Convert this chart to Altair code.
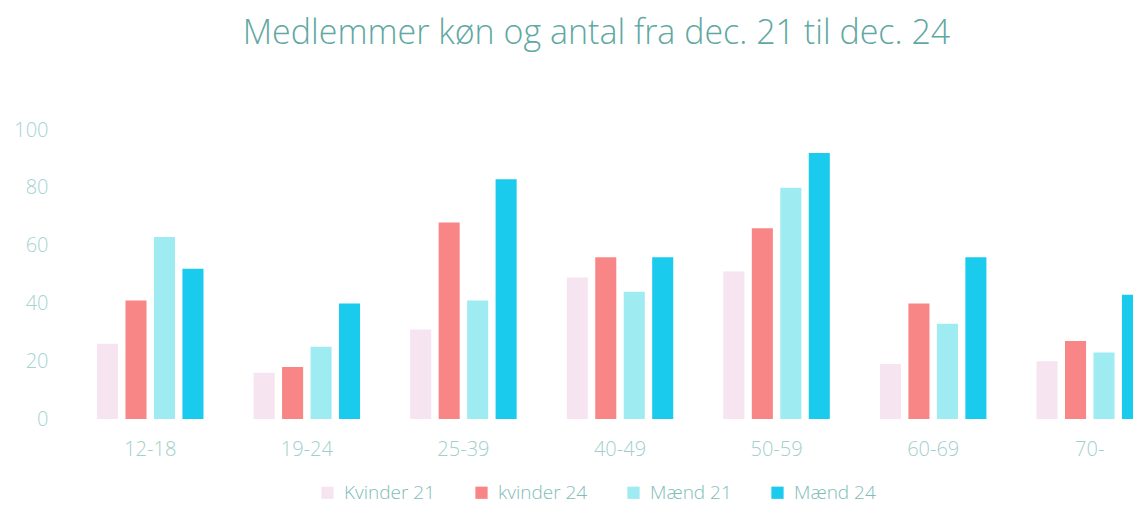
import altair as alt
import pandas as pd

ages = ["12-18", "19-24", "25-39", "40-49", "50-59", "60-69", "70-"]
series = ["Kvinder 21", "kvinder 24", "Mænd 21", "Mænd 24"]
kvinder21 = [26, 16, 31, 49, 51, 19, 20]
kvinder24 = [41, 18, 68, 56, 66, 40, 27]
maend21 = [63, 25, 41, 44, 80, 33, 23]
maend24 = [52, 40, 83, 56, 92, 56, 43]
colors = ["#f6e4f0", "#f98686", "#9eebf1", "#1bcbee"]
y_ticks = [0, 20, 40, 60, 80, 100]

rows = []
for name, vals in zip(series, [kvinder21, kvinder24, maend21, maend24]):
    for a, v in zip(ages, vals):
        rows.append({"Alder": a, "Serie": name, "Antal": v})
df = pd.DataFrame(rows)

FONT = "Open Sans"

chart = (
    alt.Chart(df)
    .mark_bar(clip=True)
    .encode(
        x=alt.X(
            "Alder:N",
            sort=ages,
            title=None,
            scale=alt.Scale(range=[37, 1083], paddingInner=0.32, paddingOuter=0),
            axis=alt.Axis(
                labelAngle=0,
                domain=False,
                ticks=False,
                labelPadding=20,
                labelFontSize=20,
                labelFontWeight=300,
                labelColor="#9fd0cb",
                labelFont=FONT,
            ),
        ),
        xOffset=alt.XOffset(
            "Serie:N",
            sort=series,
            scale=alt.Scale(paddingInner=0.26, paddingOuter=0),
        ),
        y=alt.Y(
            "Antal:Q",
            title=None,
            scale=alt.Scale(domain=[0, 100], nice=False),
            axis=alt.Axis(
                values=y_ticks,
                grid=False,
                domain=False,
                ticks=False,
                labelPadding=12,
                labelFontSize=20,
                labelFontWeight=300,
                labelColor="#a6d4cf",
                labelFont=FONT,
            ),
        ),
        color=alt.Color(
            "Serie:N",
            sort=series,
            scale=alt.Scale(domain=series, range=colors),
            legend=alt.Legend(
                title=None,
                orient="none",
                direction="horizontal",
                legendX=258,
                legendY=353,
                symbolType="square",
                symbolSize=150,
                symbolStrokeWidth=0,
                labelFontSize=19,
                labelFontWeight=300,
                labelColor="#7fbdb8",
                labelFont=FONT,
                columnPadding=36,
                labelOffset=7,
            ),
        ),
    )
    .properties(
        width=1073,
        height=289,
        title=alt.TitleParams(
            "Medlemmer køn og antal fra dec. 21 til dec. 24",
            fontSize=34,
            font=FONT,
            fontWeight=300,
            color="#5fa8a3",
            anchor="middle",
            offset=69,
        ),
        autosize=alt.AutoSizeParams(type="none"),
        padding={"left": 52, "top": 122, "right": 0, "bottom": 86},
    )
    .configure_view(stroke=None)
)

chart.save("out.html", embed_options={"renderer": "svg", "actions": False})
